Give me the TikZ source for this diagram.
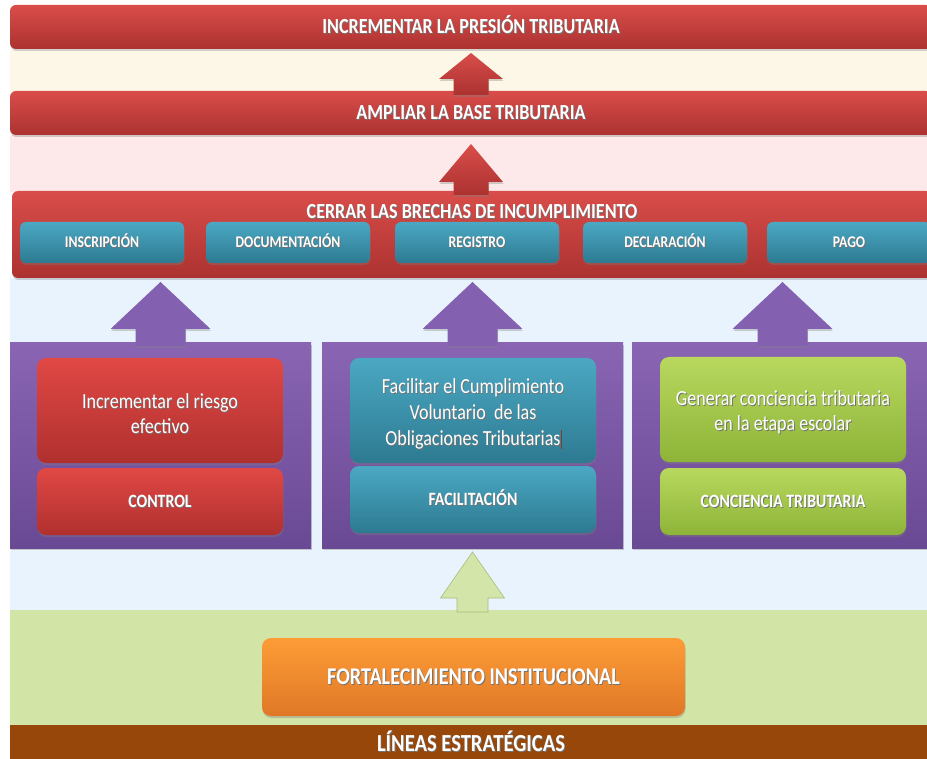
\documentclass[tikz,border=0pt]{standalone}
\usepackage{fontspec}
\setmainfont{Carlito}[FakeStretch=0.84]
\usetikzlibrary{shadows,calc}

% palette
\definecolor{redtop}{HTML}{D94D4A}
\definecolor{redbot}{HTML}{AB3230}
\definecolor{tealtop}{HTML}{4BA8C3}
\definecolor{tealbot}{HTML}{2D7A91}
\definecolor{innerredtop}{HTML}{E04845}
\definecolor{innerredbot}{HTML}{B0302E}
\definecolor{greentop}{HTML}{B8D85E}
\definecolor{greenbot}{HTML}{8DB438}
\definecolor{orangetop}{HTML}{FD9C37}
\definecolor{orangebot}{HTML}{E07827}
\definecolor{purpletop}{HTML}{8965B4}
\definecolor{purplebot}{HTML}{6A4994}
\definecolor{purplearrow}{HTML}{8461B0}
\definecolor{brownband}{HTML}{97470A}
\definecolor{creambg}{HTML}{FDF7E7}
\definecolor{pinkbg}{HTML}{FDE9E9}
\definecolor{bluebg}{HTML}{E9F3FD}
\definecolor{greenbg}{HTML}{D3E4A7}
\definecolor{lightarrow}{HTML}{D3E5A8}
\definecolor{lightarrowline}{HTML}{A6BD7E}
\definecolor{caret}{HTML}{8A3A2A}

% white lettering with a soft dark shadow
\newcommand\sh[1]{\leavevmode\rlap{\kern0.9pt\raisebox{-0.9pt}{\color{black!55}#1}}#1}
% strut that lowers the first line of a multi-line label
\newcommand\firststrut{\rule{0pt}{22pt}}

% upward block arrow: style, base point, tip point, head half width, shaft half width, head length
\newcommand\blockup[6]{%
  \path[#1] let \p1=#2, \p2=#3 in
    (\x2,\y2) -- (\x2+#4,\y2-#6) -- (\x2+#5,\y2-#6) -- (\x2+#5,\y1)
    -- (\x2-#5,\y1) -- (\x2-#5,\y2-#6) -- (\x2-#4,\y2-#6) -- cycle;}

\tikzset{
  boxbase/.style={anchor=north west, inner sep=0pt, outer sep=0pt, text=white},
  capline/.style={text height=#1, text depth=0pt},
  softshadow/.style={drop shadow={shadow xshift=0.5pt, shadow yshift=-2pt, opacity=.35}},
  titlefont/.style={font=\fontsize{21.5}{24}\selectfont\bfseries, capline=13.8pt},
  redband/.style={boxbase, rounded corners=6pt, top color=redtop, bottom color=redbot,
    softshadow, titlefont},
  tealtag/.style={boxbase, rounded corners=6pt, top color=tealtop, bottom color=tealbot,
    softshadow, minimum width=164pt, minimum height=41pt,
    font=\fontsize{16.3}{19}\selectfont\bfseries, capline=10.5pt},
  panel/.style={boxbase, top color=purpletop, bottom color=purplebot,
    drop shadow={shadow xshift=1pt, shadow yshift=-2pt, opacity=.4},
    minimum width=301pt, minimum height=205pt},
  goalbox/.style={boxbase, rounded corners=9pt, softshadow, minimum width=246pt,
    minimum height=105pt, align=center, font=\fontsize{21.5}{25}\selectfont},
  linebox/.style={boxbase, rounded corners=9pt, softshadow, minimum width=246pt,
    minimum height=67pt, font=\fontsize{18.8}{22}\selectfont\bfseries, capline=12.1pt},
  redfill/.style={top color=innerredtop, bottom color=innerredbot},
  tealfill/.style={top color=tealtop, bottom color=tealbot},
  greenfill/.style={top color=greentop, bottom color=greenbot},
  redarrow/.style={top color=redtop, bottom color=redbot, softshadow},
  purplearr/.style={fill=purplearrow, softshadow},
  greenarr/.style={fill=lightarrow, draw=lightarrowline, line width=0.6pt},
}

\begin{document}
\begin{tikzpicture}[x=1pt,y=-1pt]
\useasboundingbox (0,0) rectangle (927,759);
\clip (0,0) rectangle (927,759);
\fill[white] (0,0) rectangle (927,759);

% coloured background strips
\fill[creambg] (10,50) rectangle (940,92);
\fill[pinkbg] (10,135) rectangle (940,192);
\fill[bluebg] (10,278) rectangle (940,612);
\node[boxbase, fill=greenbg, minimum width=922pt, minimum height=116pt] (soporte) at (10,610) {};

% objective bands
\node[redband, minimum width=922pt, minimum height=44pt] (presion) at (10,5)
  {\sh{INCREMENTAR LA PRESIÓN TRIBUTARIA}};
\node[redband, minimum width=922pt, minimum height=44pt] (ampliar) at (10,91)
  {\sh{AMPLIAR LA BASE TRIBUTARIA}};
\node[redband, minimum width=920pt, minimum height=87pt] (brechas) at (12,191) {};
\node[text=white, inner sep=0pt, titlefont] (brechastit)
  at ($(brechas.north)+(0,21)$) {\sh{CERRAR LAS BRECHAS DE INCUMPLIMIENTO}};

% compliance gaps
\node[tealtag] (inscripcion) at (20,222) {\sh{INSCRIPCIÓN}};
\node[tealtag] (documentacion) at (206,222) {\sh{DOCUMENTACIÓN}};
\node[tealtag] (registro) at (395,222) {\sh{REGISTRO}};
\node[tealtag] (declaracion) at (583,222) {\sh{DECLARACIÓN}};
\node[tealtag] (pago) at (767,222) {\sh{PAGO}};

% strategic lines
\node[panel] (pcontrol) at (10,343) {};
\node[panel] (pfacil) at (322,343) {};
\node[panel] (pconc) at (632,343) {};

\node[goalbox, redfill] (riesgo) at (37,358)
  {\firststrut\sh{Incrementar el riesgo}\\\sh{efectivo}};
\node[linebox, redfill] (control) at (37,468) {\sh{CONTROL}};

\node[goalbox, tealfill, font=\fontsize{21.5}{26}\selectfont] (cumplimiento) at (350,358)
  {\firststrut\sh{Facilitar el Cumplimiento}\\\sh{Voluntario\ \ de las}\\
   \sh{Obligaciones Tributarias}\rlap{\kern0.5pt\textcolor{caret}{\rule[-4pt]{0.7pt}{19pt}}}};
\node[linebox, tealfill] (facilitacion) at (350,466) {\sh{FACILITACIÓN}};

\node[goalbox, greenfill] (escolar) at (660,357)
  {\firststrut\sh{Generar conciencia tributaria}\\\sh{en la etapa escolar}};
\node[linebox, greenfill] (conciencia) at (660,468) {\sh{CONCIENCIA TRIBUTARIA}};

% institutional base
\node[boxbase, rounded corners=9pt, top color=orangetop, bottom color=orangebot, softshadow,
  minimum width=423pt, minimum height=78pt, font=\fontsize{24}{28}\selectfont\bfseries,
  capline=15.5pt] (fortalecimiento) at (262,638) {\sh{FORTALECIMIENTO INSTITUCIONAL}};
\node[boxbase, fill=brownband, minimum width=922pt, minimum height=38pt,
  font=\fontsize{24.5}{28}\selectfont\bfseries, capline=15.8pt] (lineas) at (10,725)
  {\sh{LÍNEAS ESTRATÉGICAS}};

% upward block arrows
\blockup{redarrow}{($(ampliar.north)+(0,4)$)}{($(presion.south)+(0,4)$)}{32pt}{17.5pt}{26pt}
\blockup{redarrow}{($(brechas.north)+(0,4)$)}{($(ampliar.south)+(0,9)$)}{32pt}{17.5pt}{38pt}
\blockup{purplearr}{($(pcontrol.north)+(0,3)$)}{($(brechas.south -| pcontrol.north)+(0,4)$)}{50pt}{25pt}{47pt}
\blockup{purplearr}{($(pfacil.north)+(0,3)$)}{($(brechas.south -| pfacil.north)+(0,4)$)}{50pt}{25pt}{47pt}
\blockup{purplearr}{($(pconc.north)+(0,3)$)}{($(brechas.south -| pconc.north)+(0,4)$)}{50pt}{25pt}{47pt}
\blockup{greenarr}{($(soporte.north)+(0,2)$)}{($(pfacil.south)+(0,4)$)}{32pt}{15.5pt}{46pt}
\end{tikzpicture}
\end{document}
